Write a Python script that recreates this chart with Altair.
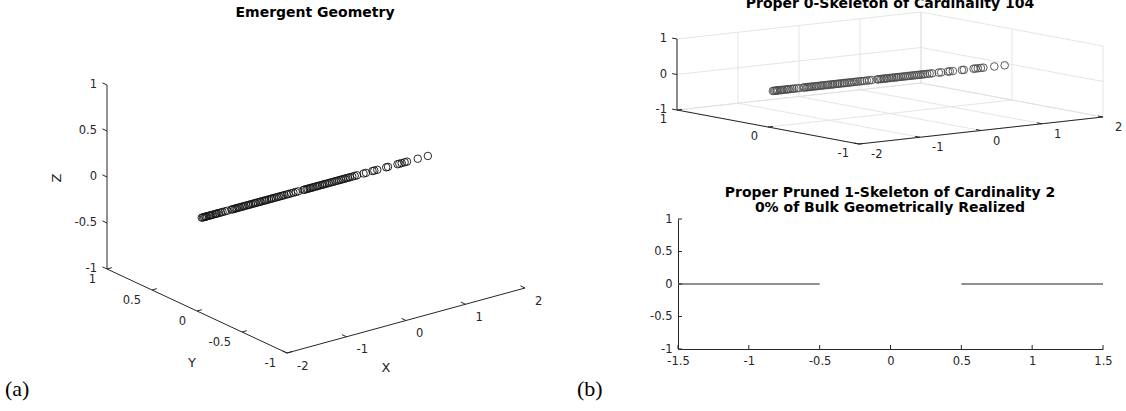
import altair as alt
import pandas as pd

W, H = 1126, 411

# ---------------- data ----------------
POINT_X = [-1.92, -1.90, -1.88, -1.86, -1.85, -1.83, -1.80, -1.78, -1.76, -1.73,
           -1.70, -1.68, -1.66, -1.63, -1.60, -1.57, -1.53, -1.49,
           -1.42, -1.40, -1.37, -1.35, -1.33, -1.30, -1.28, -1.25, -1.22, -1.20,
           -1.17, -1.14, -1.12, -1.09, -1.06, -1.03, -1.01, -0.98, -0.95, -0.93,
           -0.90, -0.87, -0.85, -0.82, -0.79, -0.76, -0.74, -0.71, -0.68, -0.65,
           -0.62, -0.59, -0.56, -0.53, -0.49, -0.46, -0.42, -0.38, -0.34, -0.30,
           -0.21, -0.19, -0.16, -0.14, -0.11, -0.09, -0.06, -0.04, -0.01, 0.02,
           0.04, 0.07, 0.10, 0.12, 0.15, 0.18, 0.21, 0.24, 0.27, 0.30,
           0.33, 0.36, 0.39, 0.42, 0.45, 0.48, 0.51, 0.54, 0.57, 0.61, 0.65, 0.69,
           0.80, 0.84, 0.95, 0.98, 1.03, 1.18, 1.21, 1.37, 1.40, 1.44, 1.49, 1.53,
           1.71, 1.88]
POINT_Y = [0.0] * len(POINT_X)
POINT_Z = [0.0] * len(POINT_X)

A_X_TICKS = [-2, -1, 0, 1, 2]
A_Y_TICKS = [-1, -0.5, 0, 0.5, 1]
A_Z_TICKS = [-1, -0.5, 0, 0.5, 1]
B_X_TICKS = [-2, -1, 0, 1, 2]
B_Y_TICKS = [-1, 0, 1]
B_Z_TICKS = [-1, 0, 1]
C_X_TICKS = [-1.5, -1, -0.5, 0, 0.5, 1, 1.5]
C_Y_TICKS = [-1, -0.5, 0, 0.5, 1]
EDGE_START = [-1.5, 0.5]
EDGE_END = [-0.5, 1.5]
EDGE_Y = [0, 0]

TITLE_A = "Emergent Geometry"
TITLE_B = "Proper 0-Skeleton of Cardinality 104"
TITLE_C1 = "Proper Pruned 1-Skeleton of Cardinality 2"
TITLE_C2 = "0% of Bulk Geometrically Realized"
AXIS_NAMES = ["X", "Y", "Z"]
PANEL_TAGS = ["(a)", "(b)"]

XMIN, XMAX, YMIN, YMAX, ZMIN, ZMAX = -2, 2, -1, 1, -1, 1

# ---------------- style ----------------
AX = "#262626"
GRID = "#dedede"
FONT = "DejaVu Sans"
LFS = 11.5


# orthographic cameras of the two 3-D panels (screen placement)
def proj_a(X, Y, Z):
    return (287 + 59.5 * (X - XMIN) - 90 * (Y - YMIN),
            353 - 16.25 * (X - XMIN) - 42 * (Y - YMIN) - 92 * (Z - ZMIN))


def proj_b(X, Y, Z):
    return (859 + 61 * (X - XMIN) - 91 * (Y - YMIN),
            144 - 6.75 * (X - XMIN) - 17 * (Y - YMIN) - 35.5 * (Z - ZMIN))


def unit_dir(proj, d):
    o = proj(0, 0, 0)
    p = proj(*d)
    dx, dy = p[0] - o[0], p[1] - o[1]
    n = (dx * dx + dy * dy) ** 0.5
    return dx / n, dy / n


def seg_df(proj, pairs):
    rows = []
    for a, b in pairs:
        u1, v1 = proj(*a)
        u2, v2 = proj(*b)
        rows.append({"u": u1, "v": v1, "u2": u2, "v2": v2})
    return pd.DataFrame(rows)


def tick_df(proj, pts, labels, direction, ln, ldx, ldy):
    rows = []
    for p, lab in zip(pts, labels):
        u, v = proj(*p)
        rows.append({"u": u, "v": v, "u2": u + direction[0] * ln, "v2": v + direction[1] * ln,
                     "lu": u + ldx, "lv": v + ldy, "label": lab})
    return pd.DataFrame(rows)


SX = alt.Scale(domain=[0, W], range=[0, W], nice=False, zero=False)
SY = alt.Scale(domain=[0, H], range=[0, H], nice=False, zero=False)


def rules(df, color, width):
    return alt.Chart(df).mark_rule(color=color, strokeWidth=width).encode(
        x=alt.X("u:Q", scale=SX, axis=None), y=alt.Y("v:Q", scale=SY, axis=None),
        x2="u2:Q", y2="v2:Q")


def labels(df, align, size=LFS, color=AX, angle=0, weight="normal", font=FONT, baseline="middle"):
    return alt.Chart(df).mark_text(align=align, baseline=baseline, font=font, fontSize=size,
                                   color=color, angle=angle, fontWeight=weight).encode(
        x=alt.X("lu:Q", scale=SX, axis=None), y=alt.Y("lv:Q", scale=SY, axis=None), text="label:N")


def fmt(t):
    return f"{t:g}"


layers = []

# ================= panel (a) =================
ax_a = seg_df(proj_a, [((XMIN, YMAX, ZMIN), (XMIN, YMAX, ZMAX)),
                       ((XMIN, YMAX, ZMIN), (XMIN, YMIN, ZMIN)),
                       ((XMIN, YMIN, ZMIN), (XMAX, YMIN, ZMIN))])
layers.append(rules(ax_a, AX, 1))
dxa = unit_dir(proj_a, (1, 0, 0))
dya = unit_dir(proj_a, (0, 1, 0))
tz = tick_df(proj_a, [(XMIN, YMAX, z) for z in A_Z_TICKS], [fmt(z) for z in A_Z_TICKS], dya, 5, -10, 0)
ty = tick_df(proj_a, [(XMIN, y, ZMIN) for y in A_Y_TICKS], [fmt(y) for y in A_Y_TICKS], dxa, 5, -11, 11)
tx = tick_df(proj_a, [(x, YMIN, ZMIN) for x in A_X_TICKS], [fmt(x) for x in A_X_TICKS], dya, 5, 10, 13.5)
for d in (tz, ty, tx):
    layers.append(rules(d, AX, 1))
layers.append(labels(tz, "right"))
layers.append(labels(ty, "right"))
layers.append(labels(tx, "left"))

# axis names of panel (a)
mz = proj_a(XMIN, YMAX, 0)
my = proj_a(XMIN, 0, ZMIN)
mx = proj_a(0, YMIN, ZMIN)
names = pd.DataFrame({"label": AXIS_NAMES,
                      "lu": [mx[0] - 20, my[0] - 5, mz[0] - 50],
                      "lv": [mx[1] + 47.5, my[1] + 52, mz[1] + 1]})
layers.append(labels(names.iloc[:2], "center", size=13))
layers.append(labels(names.iloc[2:], "center", size=13, angle=270))

# points of panel (a)
pa = pd.DataFrame([dict(zip(("u", "v"), proj_a(x, y, z))) for x, y, z in zip(POINT_X, POINT_Y, POINT_Z)])
layers.append(alt.Chart(pa).mark_point(shape="circle", filled=False, size=56, strokeWidth=0.9,
                                       color="#111111", opacity=1).encode(
    x=alt.X("u:Q", scale=SX, axis=None), y=alt.Y("v:Q", scale=SY, axis=None)))

# ================= panel (b) top =================
grid_pairs = []
for x in B_X_TICKS:
    grid_pairs.append(((x, YMIN, ZMIN), (x, YMAX, ZMIN)))
    grid_pairs.append(((x, YMAX, ZMIN), (x, YMAX, ZMAX)))
for y in B_Y_TICKS:
    grid_pairs.append(((XMIN, y, ZMIN), (XMAX, y, ZMIN)))
    grid_pairs.append(((XMAX, y, ZMIN), (XMAX, y, ZMAX)))
for z in B_Z_TICKS:
    grid_pairs.append(((XMIN, YMAX, z), (XMAX, YMAX, z)))
    grid_pairs.append(((XMAX, YMIN, z), (XMAX, YMAX, z)))
layers.append(rules(seg_df(proj_b, grid_pairs), GRID, 0.8))

ax_b = seg_df(proj_b, [((XMIN, YMAX, ZMIN), (XMIN, YMAX, ZMAX)),
                       ((XMIN, YMAX, ZMIN), (XMIN, YMIN, ZMIN)),
                       ((XMIN, YMIN, ZMIN), (XMAX, YMIN, ZMIN))])
layers.append(rules(ax_b, AX, 1))
dxb = unit_dir(proj_b, (1, 0, 0))
dyb = unit_dir(proj_b, (0, 1, 0))
tzb = tick_df(proj_b, [(XMIN, YMAX, z) for z in B_Z_TICKS], [fmt(z) for z in B_Z_TICKS], dyb, 5, -10, 0)
tyb = tick_df(proj_b, [(XMIN, y, ZMIN) for y in B_Y_TICKS], [fmt(y) for y in B_Y_TICKS], dxb, 5, -10, 10)
txb = tick_df(proj_b, [(x, YMIN, ZMIN) for x in B_X_TICKS], [fmt(x) for x in B_X_TICKS], dyb, 5, 12, 11)
for d in (tzb, tyb, txb):
    layers.append(rules(d, AX, 1))
layers.append(labels(tzb, "right"))
layers.append(labels(tyb, "right"))
layers.append(labels(txb, "left"))

pb = pd.DataFrame([dict(zip(("u", "v"), proj_b(x, y, z))) for x, y, z in zip(POINT_X, POINT_Y, POINT_Z)])
layers.append(alt.Chart(pb).mark_point(shape="circle", filled=False, size=58, strokeWidth=0.9,
                                       color="#4a4a4a", opacity=1).encode(
    x=alt.X("u:Q", scale=SX, axis=None), y=alt.Y("v:Q", scale=SY, axis=None)))

# ================= panel (b) bottom: 2-D plot =================
C_LEFT, C_RIGHT, C_BOTTOM, C_TOP = 678, 1103, 349, 219
SXC = alt.Scale(domain=[-1.5, 1.5], range=[C_LEFT, C_RIGHT], nice=False, zero=False)
SYC = alt.Scale(domain=[-1, 1], range=[C_BOTTOM, C_TOP], nice=False, zero=False)
axis_common = dict(grid=False, ticks=False, tickSize=0, domainColor=AX, domainWidth=1,
                   labelColor=AX, labelFont=FONT, labelFontSize=LFS, labelFlush=False,
                   labelOverlap=False, labelExpr="datum.value + ''", title=None)
edges = pd.DataFrame({"x0": EDGE_START, "x1": EDGE_END, "y": EDGE_Y})
layers.append(alt.Chart(edges).mark_rule(color="#6b6b6b", strokeWidth=1.6).encode(
    x=alt.X("x0:Q", scale=SXC,
            axis=alt.Axis(values=C_X_TICKS, orient="bottom", offset=C_BOTTOM - H, labelPadding=6,
                          **axis_common)),
    x2="x1:Q",
    y=alt.Y("y:Q", scale=SYC,
            axis=alt.Axis(values=C_Y_TICKS, orient="left", offset=-C_LEFT, labelPadding=6,
                          **axis_common))))
layers.append(alt.Chart(pd.DataFrame({"t": C_X_TICKS})).mark_rule(color=AX, strokeWidth=1).encode(
    x=alt.X("t:Q", scale=SXC, axis=None), y=alt.value(C_BOTTOM), y2=alt.value(C_BOTTOM - 4)))
layers.append(alt.Chart(pd.DataFrame({"t": C_Y_TICKS})).mark_rule(color=AX, strokeWidth=1).encode(
    y=alt.Y("t:Q", scale=SYC, axis=None), x=alt.value(C_LEFT), x2=alt.value(C_LEFT + 4)))

# ================= titles & tags =================
titles = pd.DataFrame({"label": [TITLE_A, TITLE_B, TITLE_C1, TITLE_C2],
                       "lu": [315, 890, 890, 890],
                       "lv": [16.5, 7.5, 197, 212]})
layers.append(labels(titles, "center", size=14, color="black", weight="bold", baseline="alphabetic"))
tags = pd.DataFrame({"label": PANEL_TAGS, "lu": [5, 577], "lv": [396, 396]})
layers.append(labels(tags, "left", size=22, color="black", font="Liberation Serif", baseline="alphabetic"))

chart = alt.layer(*layers).resolve_scale(x="independent", y="independent").properties(
    width=W, height=H, padding=0, autosize=alt.AutoSizeParams(type="none"),
    background="white").configure_view(stroke="transparent")

chart.save("out.html", embed_options={"renderer": "svg", "actions": False})
